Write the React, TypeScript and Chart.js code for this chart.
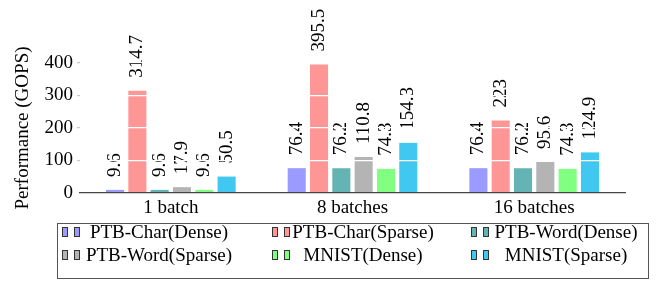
import React, { useEffect, useRef } from "react";
import { Chart, registerables } from "chart.js";

Chart.register(...registerables);

const categories = ["1 batch", "8 batches", "16 batches"];
const seriesNames = [
  "PTB-Char(Dense)",
  "PTB-Char(Sparse)",
  "PTB-Word(Dense)",
  "PTB-Word(Sparse)",
  "MNIST(Dense)",
  "MNIST(Sparse)",
];
const ptbCharDense = [9.6, 76.4, 76.4];
const ptbCharSparse = [314.7, 395.5, 223];
const ptbWordDense = [9.6, 76.2, 76.2];
const ptbWordSparse = [17.9, 110.8, 95.6];
const mnistDense = [9.6, 74.3, 74.3];
const mnistSparse = [50.5, 154.3, 124.9];
const yMin = 0;
const yMax = 400;
const yStep = 100;
const yTitle = "Performance (GOPS)";

const seriesValues = [ptbCharDense, ptbCharSparse, ptbWordDense, ptbWordSparse, mnistDense, mnistSparse];
const colors = ["#9b9bff", "#ff9696", "#64b4b4", "#b4b4b4", "#80ff80", "#40c8f0"];

const FONT_FAMILY = "'Liberation Serif', 'Times New Roman', serif";

const valueLabelPlugin = {
  id: "valueLabels",
  afterDatasetsDraw(chart: any) {
    const ctx = chart.ctx;
    ctx.save();
    ctx.fillStyle = "#000";
    ctx.font = `19px ${FONT_FAMILY}`;
    ctx.textAlign = "left";
    ctx.textBaseline = "middle";
    chart.data.datasets.forEach((ds: any, di: number) => {
      const meta = chart.getDatasetMeta(di);
      meta.data.forEach((el: any, i: number) => {
        const v = ds.data[i];
        ctx.save();
        ctx.translate(el.x, el.y - 13);
        ctx.rotate(-Math.PI / 2);
        ctx.fillText(String(v), 0, 0);
        ctx.restore();
      });
    });
    ctx.restore();
  },
};

const legendPlugin = {
  id: "boxLegend",
  afterDraw(chart: any) {
    const ctx = chart.ctx;
    ctx.save();
    ctx.strokeStyle = "#555";
    ctx.lineWidth = 1;
    ctx.strokeRect(57.5, 223.5, 591, 55);
    const colIcon = [62, 272, 471];
    const colText = [159, 363, 566];
    const rowY = [232, 255];
    ctx.font = `19px ${FONT_FAMILY}`;
    ctx.textAlign = "center";
    ctx.textBaseline = "middle";
    chart.data.datasets.forEach((ds: any, i: number) => {
      const r = Math.floor(i / 3);
      const c = i % 3;
      const y = rowY[r];
      for (let k = 0; k < 2; k++) {
        const x = colIcon[c] + k * 12;
        ctx.fillStyle = ds.backgroundColor;
        ctx.fillRect(x, y - 4.5, 5, 9);
        ctx.strokeStyle = "#333";
        ctx.strokeRect(x + 0.5, y - 4.5, 5, 9);
      }
      ctx.fillStyle = "#000";
      ctx.fillText(ds.label, colText[c], y + 1);
    });
    ctx.restore();
  },
};

export default function App() {
  const ref = useRef<HTMLCanvasElement | null>(null);

  useEffect(() => {
    document.body.style.margin = "0";
    let chart: any = null;
    let cancelled = false;
    const build = () => {
      const canvas = ref.current;
      if (!canvas || cancelled) return;
      const font = { family: FONT_FAMILY, size: 19 };
      chart = new Chart(canvas, {
        type: "bar",
        data: {
          labels: categories,
          datasets: seriesNames.map((name, i) => ({
            label: name,
            data: seriesValues[i],
            backgroundColor: colors[i],
            borderWidth: 0,
            categoryPercentage: 0.737,
            barPercentage: 0.81,
          })),
        },
        options: {
          responsive: false,
          animation: false,
          layout: { padding: { top: 63, right: 39, bottom: 62, left: 0 } },
          plugins: {
            legend: { display: false },
            tooltip: { enabled: false },
          },
          scales: {
            x: {
              offset: true,
              grid: { display: false, drawTicks: false },
              border: { display: true, color: "#444", width: 1.3, z: 2 },
              ticks: { font, color: "#000", padding: 4 },
              afterFit: (s: any) => {
                s.height = 30;
              },
            },
            y: {
              min: yMin,
              max: yMax,
              border: { display: false },
              grid: {
                z: 1,
                color: (c: any) => (c.tick && c.tick.value === 0 ? "rgba(0,0,0,0)" : "#ffffff"),
                tickColor: (c: any) => (c.tick && c.tick.value === 0 ? "rgba(0,0,0,0)" : "#c8c8c8"),
                tickLength: 3,
                lineWidth: 1.2,
              },
              ticks: { stepSize: yStep, font, color: "#000", padding: 4 },
              title: {
                display: true,
                text: yTitle,
                font,
                color: "#000",
                padding: { top: 12, bottom: 0 },
              },
              afterFit: (s: any) => {
                s.width = 80;
              },
            },
          },
        },
        plugins: [valueLabelPlugin, legendPlugin],
      } as any);
    };
    const fontsApi: any = (document as any).fonts;
    if (fontsApi && fontsApi.load) {
      Promise.all([
        fontsApi.load(`19px "Liberation Serif"`),
        fontsApi.load(`18px "Liberation Serif"`),
      ])
        .catch(() => null)
        .then(() => build());
    } else {
      build();
    }
    return () => {
      cancelled = true;
      if (chart) chart.destroy();
    };
  }, []);

  return (
    <div style={{ width: 664, height: 285 }}>
      <canvas ref={ref} width={664} height={285} style={{ display: "block" }} />
    </div>
  );
}
